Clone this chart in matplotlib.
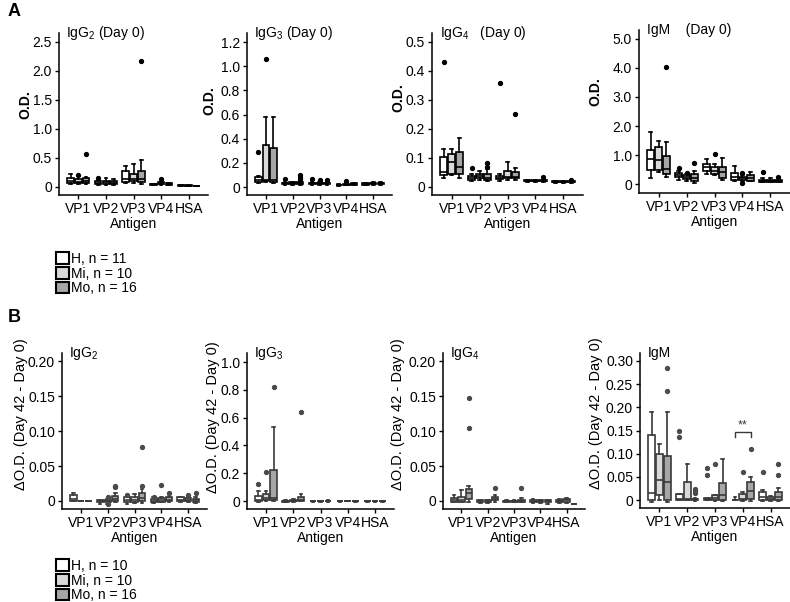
import matplotlib
matplotlib.use("Agg")
import matplotlib.pyplot as plt
from matplotlib.patches import Patch

plt.rcParams['font.family'] = ['Liberation Sans', 'DejaVu Sans']
plt.rcParams['mathtext.default'] = 'regular'

W, H = 790, 602

antigens = ['VP1', 'VP2', 'VP3', 'VP4', 'HSA']
groups = ['H', 'Mi', 'Mo']
group_colors = ['#FFFFFF', '#D9D9D9', '#A6A6A6']
legend_a = ['H, n = 11', 'Mi, n = 10', 'Mo, n = 16']
legend_b = ['H, n = 10', 'Mi, n = 10', 'Mo, n = 16']

# box stats per antigen x group (H, Mi, Mo): [whislo, q1, median, q3, whishi]
# fliers: (box index, value), box index = antigen*3 + group
a_igg2 = [
    [0.06, 0.075, 0.10, 0.16, 0.23], [0.06, 0.07, 0.09, 0.14, 0.19], [0.05, 0.07, 0.10, 0.16, 0.17],
    [0.04, 0.05, 0.07, 0.10, 0.12], [0.04, 0.05, 0.08, 0.11, 0.15], [0.04, 0.05, 0.07, 0.10, 0.14],
    [0.07, 0.09, 0.14, 0.27, 0.36], [0.07, 0.10, 0.14, 0.22, 0.39], [0.06, 0.09, 0.13, 0.28, 0.46],
    [0.03, 0.04, 0.05, 0.06, 0.06], [0.04, 0.05, 0.06, 0.08, 0.09], [0.03, 0.04, 0.05, 0.07, 0.07],
    [0.02, 0.02, 0.03, 0.04, 0.04], [0.02, 0.02, 0.025, 0.03, 0.035], [0.01, 0.015, 0.02, 0.02, 0.025],
]
a_igg2_out = [(1, 0.21), (2, 0.57), (3, 0.16), (8, 2.17), (10, 0.13)]

a_igg3 = [
    [0.03, 0.04, 0.06, 0.08, 0.09], [0.04, 0.05, 0.06, 0.35, 0.58], [0.03, 0.04, 0.06, 0.32, 0.58],
    [0.02, 0.025, 0.03, 0.035, 0.04], [0.02, 0.025, 0.03, 0.04, 0.045], [0.02, 0.025, 0.03, 0.045, 0.05],
    [0.02, 0.025, 0.03, 0.035, 0.04], [0.02, 0.025, 0.03, 0.035, 0.04], [0.02, 0.025, 0.03, 0.035, 0.04],
    [0.01, 0.015, 0.02, 0.02, 0.025], [0.015, 0.02, 0.02, 0.025, 0.03], [0.015, 0.02, 0.025, 0.03, 0.035],
    [0.02, 0.02, 0.025, 0.03, 0.035], [0.02, 0.025, 0.03, 0.035, 0.04], [0.02, 0.025, 0.03, 0.035, 0.045],
]
a_igg3_out = [(0, 0.29), (1, 1.06), (3, 0.07), (5, 0.065), (5, 0.08), (5, 0.10),
              (6, 0.07), (7, 0.06), (8, 0.06), (10, 0.05)]

a_igg4 = [
    [0.03, 0.041, 0.05, 0.104, 0.13], [0.04, 0.045, 0.085, 0.115, 0.13], [0.03, 0.045, 0.07, 0.12, 0.17],
    [0.022, 0.025, 0.03, 0.038, 0.045], [0.025, 0.032, 0.038, 0.045, 0.055], [0.022, 0.025, 0.032, 0.045, 0.06],
    [0.022, 0.027, 0.03, 0.038, 0.045], [0.025, 0.03, 0.035, 0.055, 0.085], [0.025, 0.03, 0.035, 0.05, 0.065],
    [0.018, 0.02, 0.022, 0.025, 0.025], [0.018, 0.02, 0.022, 0.024, 0.025], [0.018, 0.02, 0.022, 0.025, 0.028],
    [0.015, 0.016, 0.018, 0.019, 0.02], [0.015, 0.016, 0.018, 0.019, 0.02], [0.015, 0.016, 0.018, 0.02, 0.022],
]
a_igg4_out = [(0, 0.43), (3, 0.065), (5, 0.07), (5, 0.083), (6, 0.36), (8, 0.25), (11, 0.035), (14, 0.025)]

a_igm = [
    [0.22, 0.48, 0.86, 1.17, 1.80], [0.41, 0.48, 0.83, 1.27, 1.49], [0.25, 0.35, 0.52, 0.98, 1.46],
    [0.15, 0.25, 0.30, 0.39, 0.45], [0.12, 0.18, 0.25, 0.30, 0.33], [0.05, 0.10, 0.20, 0.33, 0.45],
    [0.35, 0.45, 0.57, 0.70, 0.85], [0.30, 0.35, 0.45, 0.58, 0.70], [0.15, 0.22, 0.42, 0.60, 0.90],
    [0.12, 0.15, 0.25, 0.37, 0.63], [0.12, 0.15, 0.20, 0.25, 0.30], [0.10, 0.12, 0.20, 0.30, 0.42],
    [0.07, 0.08, 0.10, 0.15, 0.20], [0.07, 0.08, 0.10, 0.13, 0.20], [0.07, 0.08, 0.11, 0.14, 0.22],
]
a_igm_out = [(2, 4.05), (3, 0.55), (4, 0.38), (5, 0.72), (7, 1.02), (10, 0.38), (10, 0.05), (12, 0.43), (14, 0.25)]

b_igg2 = [
    [0.0, 0.0, 0.003, 0.008, 0.011], [0.0, 0.0, 0.0, 0.0, 0.0], [0.0, 0.0, 0.0, 0.0, 0.0],
    [-0.004, -0.002, 0.0, 0.001, 0.002], [-0.004, -0.001, 0.0, 0.001, 0.003], [-0.002, 0.0, 0.003, 0.007, 0.011],
    [-0.004, -0.002, 0.001, 0.005, 0.008], [-0.003, -0.001, 0.002, 0.006, 0.01], [-0.003, 0.0, 0.004, 0.012, 0.017],
    [-0.003, -0.002, 0.0, 0.003, 0.005], [-0.002, -0.001, 0.001, 0.004, 0.006], [-0.002, 0.0, 0.002, 0.005, 0.007],
    [-0.001, 0.0, 0.002, 0.005, 0.006], [-0.001, 0.0, 0.002, 0.004, 0.005], [-0.003, -0.002, 0.001, 0.003, 0.005],
]
b_igg2_out = [(4, 0.005), (4, -0.005), (5, 0.02), (5, 0.022), (6, 0.008), (8, 0.022), (8, 0.077),
              (9, 0.005), (10, 0.023), (11, 0.011), (13, 0.009), (14, 0.012)]

b_igg3 = [
    [-0.005, 0.0, 0.01, 0.04, 0.07], [0.0, 0.01, 0.02, 0.05, 0.07], [0.0, 0.01, 0.02, 0.22, 0.53],
    [-0.01, -0.005, 0.0, 0.003, 0.005], [-0.005, 0.0, 0.003, 0.01, 0.015], [0.0, 0.0, 0.01, 0.03, 0.05],
    [-0.005, -0.003, 0.0, 0.002, 0.003], [-0.004, -0.002, 0.0, 0.002, 0.004], [-0.004, -0.002, 0.0, 0.003, 0.006],
    [-0.004, -0.002, 0.0, 0.002, 0.003], [-0.003, -0.002, 0.0, 0.002, 0.003], [-0.004, -0.002, 0.0, 0.002, 0.003],
    [-0.004, -0.002, 0.0, 0.002, 0.003], [-0.004, -0.002, 0.0, 0.002, 0.003], [-0.004, -0.002, 0.0, 0.002, 0.004],
]
b_igg3_out = [(0, 0.12), (1, 0.21), (2, 0.82), (5, 0.64)]

b_igg4 = [
    [-0.002, -0.001, 0.001, 0.004, 0.008], [-0.002, -0.001, 0.001, 0.006, 0.016], [-0.001, 0.003, 0.011, 0.017, 0.021],
    [-0.003, -0.002, 0.0, 0.001, 0.002], [-0.003, -0.002, -0.001, 0.001, 0.002], [-0.001, 0.001, 0.003, 0.006, 0.008],
    [-0.002, -0.001, 0.0, 0.0, 0.001], [-0.002, -0.001, 0.0, 0.0, 0.001], [-0.002, -0.001, 0.0, 0.002, 0.004],
    [-0.003, -0.001, 0.0, 0.002, 0.003], [-0.003, -0.001, 0.0, 0.001, 0.002], [-0.004, -0.002, 0.0, 0.001, 0.002],
    [-0.003, -0.002, 0.0, 0.002, 0.003], [-0.003, -0.001, 0.001, 0.003, 0.004], [-0.005, -0.005, -0.005, -0.005, -0.005],
]
b_igg4_out = [(2, 0.105), (2, 0.147), (5, 0.018), (8, 0.018)]

b_igm = [
    [-0.003, 0.0, 0.015, 0.14, 0.19], [0.0, 0.011, 0.043, 0.10, 0.12], [-0.003, 0.0, 0.038, 0.094, 0.19],
    [0.0, 0.001, 0.002, 0.014, 0.014], [0.0, 0.0, 0.003, 0.04, 0.078], [-0.002, 0.001, 0.002, 0.003, 0.005],
    [0.0, 0.001, 0.002, 0.004, 0.004], [-0.002, 0.0, 0.004, 0.01, 0.012], [-0.002, 0.0, 0.012, 0.037, 0.088],
    [0.0, 0.0, 0.0, 0.0, 0.007], [-0.002, 0.0, 0.003, 0.013, 0.018], [-0.002, 0.003, 0.02, 0.04, 0.05],
    [-0.002, 0.0, 0.006, 0.017, 0.022], [-0.002, 0.0, 0.002, 0.006, 0.008], [-0.002, 0.0, 0.006, 0.017, 0.027],
]
b_igm_out = [(2, 0.235), (2, 0.285), (3, 0.135), (3, 0.15), (5, 0.015), (5, 0.02), (5, 0.025),
             (6, 0.055), (6, 0.07), (7, 0.078), (10, 0.06), (11, 0.11), (12, 0.06), (14, 0.055), (14, 0.077)]

# y ticks
a_igg2_ticks = [0, 0.5, 1.0, 1.5, 2.0, 2.5]
a_igg2_labels = ['0', '0.5', '1.0', '1.5', '2.0', '2.5']
a_igg3_ticks = [0, 0.2, 0.4, 0.6, 0.8, 1.0, 1.2]
a_igg3_labels = ['0', '0.2', '0.4', '0.6', '0.8', '1.0', '1.2']
a_igg4_ticks = [0, 0.1, 0.2, 0.3, 0.4, 0.5]
a_igg4_labels = ['0', '0.1', '0.2', '0.3', '0.4', '0.5']
a_igm_ticks = [0, 1, 2, 3, 4, 5]
a_igm_labels = ['0', '1.0', '2.0', '3.0', '4.0', '5.0']
b_small_ticks = [0, 0.05, 0.10, 0.15, 0.20]
b_small_labels = ['0', '0.05', '0.10', '0.15', '0.20']
b_igg3_ticks = [0, 0.2, 0.4, 0.6, 0.8, 1.0]
b_igg3_labels = ['0', '0.2', '0.4', '0.6', '0.8', '1.0']
b_igm_ticks = [0, 0.05, 0.10, 0.15, 0.20, 0.25, 0.30]
b_igm_labels = ['0', '0.05', '0.10', '0.15', '0.20', '0.25', '0.30']

fig = plt.figure(figsize=(W / 100, H / 100), dpi=100)


def add_px_axes(x0, y0, x1, y1):
    return fig.add_axes([x0 / W, 1 - y1 / H, (x1 - x0) / W, (y1 - y0) / H])


offsets = [-0.28, 0, 0.28]
positions = [i + 1 + o for i in range(len(antigens)) for o in offsets]


def draw_panel(box, ext, rect, ylim, ticks, labels, title, ylabel, ylab_xy, edge, pt_col, bold_lab):
    ax = add_px_axes(*rect)
    stats = []
    for k, (lo, q1, med, q3, hi) in enumerate(box):
        stats.append(dict(whislo=lo, q1=q1, med=med, q3=q3, whishi=hi,
                          fliers=[v for (j, v) in ext if j == k]))
    res = ax.bxp(stats, positions=positions, widths=0.24, patch_artist=True,
                 capwidths=0.1,
                 boxprops=dict(edgecolor=edge, linewidth=1.2),
                 medianprops=dict(color=edge, linewidth=1.2),
                 whiskerprops=dict(color=edge, linewidth=1.2),
                 capprops=dict(color=edge, linewidth=1.2),
                 flierprops=dict(marker='o', markersize=2.8, markerfacecolor=pt_col,
                                 markeredgecolor=pt_col))
    for k, b in enumerate(res['boxes']):
        b.set_facecolor(group_colors[k % 3])
    ax.set_xlim(0.3, 5.7)
    ax.set_ylim(*ylim)
    ax.set_xticks(range(1, 6))
    ax.set_xticklabels(antigens)
    ax.set_yticks(ticks)
    ax.set_yticklabels(labels)
    for s in ['top', 'right']:
        ax.spines[s].set_visible(False)
    for s in ['left', 'bottom']:
        ax.spines[s].set_linewidth(1.1)
    ax.tick_params(direction='out', length=3, width=1, labelsize=10, pad=2, colors='black')
    ax.text(0.05, 1.0, title, transform=ax.transAxes, fontsize=10, va='center', ha='left')
    ax.set_xlabel('Antigen', fontsize=10, labelpad=1)
    ax.set_ylabel(ylabel, fontsize=10 if bold_lab else 10.5,
                  fontweight='bold' if bold_lab else 'normal')
    ax.yaxis.set_label_coords(ylab_xy[0] / (rect[2] - rect[0]), ylab_xy[1])
    return ax


draw_panel(a_igg2, a_igg2_out, (59, 33, 208, 195), (-0.138, 2.655), a_igg2_ticks, a_igg2_labels,
           'IgG$_2$ (Day 0)', 'O.D.', (-27, 0.56), 'black', 'black', True)
draw_panel(a_igg3, a_igg3_out, (247, 33, 392, 195), (-0.066, 1.275), a_igg3_ticks, a_igg3_labels,
           'IgG$_3$ (Day 0)', 'O.D.', (-31, 0.58), 'black', 'black', True)
draw_panel(a_igg4, a_igg4_out, (432, 33, 583, 195), (-0.028, 0.531), a_igg4_ticks, a_igg4_labels,
           'IgG$_4$   (Day 0)', 'O.D.', (-27, 0.6), 'black', 'black', True)
draw_panel(a_igm, a_igm_out, (639, 30, 790, 193), (-0.31, 5.31), a_igm_ticks, a_igm_labels,
           'IgM    (Day 0)', 'O.D.', (-37, 0.62), 'black', 'black', True)

dlab = '\u0394O.D. (Day 42 - Day 0)'
draw_panel(b_igg2, b_igg2_out, (62, 353, 207, 509), (-0.0115, 0.212), b_small_ticks, b_small_labels,
           'IgG$_2$', dlab, (-34, 0.61), '#3a3a3a', '#4a4a4a', False)
draw_panel(b_igg3, b_igg3_out, (247, 353, 394, 509), (-0.057, 1.065), b_igg3_ticks, b_igg3_labels,
           'IgG$_3$', dlab, (-27, 0.59), '#3a3a3a', '#4a4a4a', False)
draw_panel(b_igg4, b_igg4_out, (443, 353, 585, 509), (-0.0115, 0.212), b_small_ticks, b_small_labels,
           'IgG$_4$', dlab, (-38, 0.61), '#3a3a3a', '#4a4a4a', False)
ax8 = draw_panel(b_igm, b_igm_out, (640, 353, 790, 508), (-0.017, 0.317), b_igm_ticks, b_igm_labels,
                 'IgM', dlab, (-37, 0.61), '#3a3a3a', '#4a4a4a', False)

# significance bracket VP4 H vs Mo
xa, xb = positions[9], positions[11]
ax8.plot([xa, xa, xb, xb], [0.137, 0.146, 0.146, 0.137], color='#3a3a3a', lw=1)
ax8.text((xa + xb) / 2, 0.147, '**', ha='center', va='bottom', fontsize=9, color='#3a3a3a')

# panel letters
fig.text(8 / W, 1 - 11 / H, 'A', fontsize=13, fontweight='bold', va='center')
fig.text(8 / W, 1 - 318 / H, 'B', fontsize=13, fontweight='bold', va='center')

# legends
for labs, top in [(legend_a, 252), (legend_b, 559)]:
    handles = [Patch(facecolor=c, edgecolor='black', linewidth=1.5) for c in group_colors]
    fig.legend(handles, labs, loc='upper left', bbox_to_anchor=(56 / W, 1 - top / H),
               frameon=False, fontsize=10, handlelength=0.9, handleheight=0.9,
               handletextpad=0.2, labelspacing=0.05, borderpad=0, borderaxespad=0)

fig.savefig('out.png', dpi=100)
